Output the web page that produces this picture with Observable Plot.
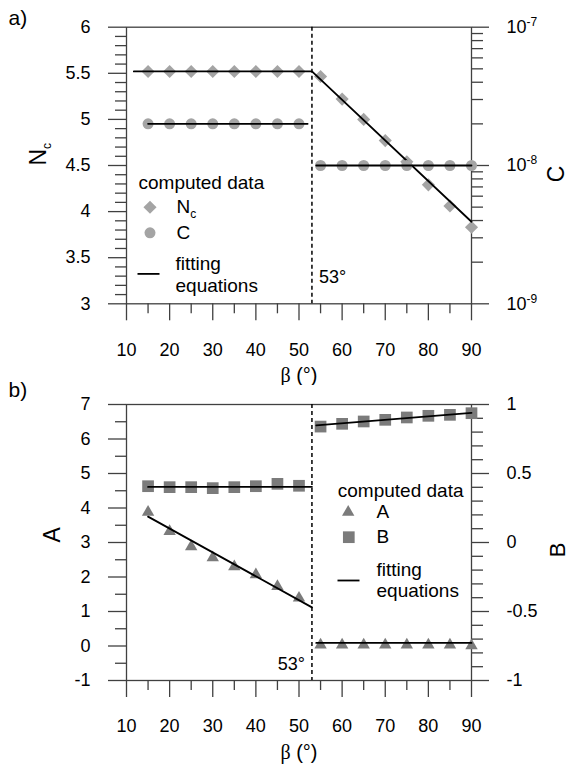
<!DOCTYPE html>
<html><head><meta charset="utf-8">
<script src="https://cdn.jsdelivr.net/npm/d3@7"></script>
<script src="https://cdn.jsdelivr.net/npm/@observablehq/plot@0.6"></script>
<style>
body{margin:0;background:#fff;}
.panel{position:relative;width:570px;height:385px;}
.panel svg{position:absolute;left:0;top:0;}
</style></head><body>
<div id="pa" class="panel"></div>
<div id="pb" class="panel"></div>
<script>
// ---------- data ----------
const betaLow = [15, 20, 25, 30, 35, 40, 45, 50];
const betaHigh = [55, 60, 65, 70, 75, 80, 85, 90];
const ncLow = [5.52, 5.52, 5.52, 5.52, 5.52, 5.52, 5.52, 5.52];
const ncHigh = [5.465, 5.22, 5.0, 4.77, 4.54, 4.29, 4.06, 3.83];
const cLow = [2e-8, 2e-8, 2e-8, 2e-8, 2e-8, 2e-8, 2e-8, 2e-8];
const cHigh = [1e-8, 1e-8, 1e-8, 1e-8, 1e-8, 1e-8, 1e-8, 1e-8];
const ncFitBeta = [11.7, 53, 90];
const ncFitVal = [5.52, 5.52, 3.89];
const cFitLowBeta = [15, 52];
const cFitLowVal = [2e-8, 2e-8];
const cFitHighBeta = [54, 90];
const cFitHighVal = [1e-8, 1e-8];

const aLow = [3.88, 3.32, 2.88, 2.56, 2.30, 2.07, 1.73, 1.39];
const aHigh = [0.03, 0.03, 0.03, 0.03, 0.03, 0.03, 0.03, 0.01];
const bLow = [0.408, 0.401, 0.401, 0.394, 0.401, 0.408, 0.425, 0.411];
const bHigh = [0.84, 0.86, 0.877, 0.889, 0.906, 0.918, 0.925, 0.937];
const aFitLowBeta = [15, 53];
const aFitLowVal = [3.75, 1.12];
const aFitHighBeta = [54, 90];
const aFitHighVal = [0.09, 0.09];
const bFitLowBeta = [15, 53];
const bFitLowVal = [0.403, 0.403];
const bFitHighBeta = [54, 90];
const bFitHighVal = [0.848, 0.94];

const breakBeta = [53];

const xTicks = [10, 20, 30, 40, 50, 60, 70, 80, 90];
const xMinor = [15, 25, 35, 45, 55, 65, 75, 85];
const ncTicks = [3, 3.5, 4, 4.5, 5, 5.5, 6];
const ncMinor = d3.range(31, 60).map(d => d / 10).filter(d => Math.round(d * 10) % 5 !== 0);
const cTicks = [1e-9, 1e-8, 1e-7];
const cTickLabels = ["10^-9", "10^-8", "10^-7"];
const cMinor = [2e-9, 3e-9, 4e-9, 5e-9, 6e-9, 7e-9, 8e-9, 9e-9, 2e-8, 3e-8, 4e-8, 5e-8, 6e-8, 7e-8, 8e-8, 9e-8];
const aTicks = [-1, 0, 1, 2, 3, 4, 5, 6, 7];
const aMinor = [-0.5, 0.5, 1.5, 2.5, 3.5, 4.5, 5.5, 6.5];
const bTicks = [-1, -0.5, 0, 0.5, 1];
const bMinor = d3.range(-9, 10).map(d => d / 10).filter(d => Math.round(d * 10) % 5 !== 0);

// ---------- helpers ----------
const pts = (xs, ys) => xs.map((x, i) => ({beta: x, v: ys[i]}));
const W = 570, H = 385;
const ML = 126, MR = 99;
const AX = "#404040";
const FONT = "Liberation Sans, Arial, sans-serif";
const lightGray = "#a4a4a4";
const darkGray = "#7b7b7b";
const legendLine = {draw(ctx) { ctx.moveTo(-11, 0); ctx.lineTo(11, 0); }};
const M = "middle";

function baseStyle(bg) {
  return {fontFamily: FONT, fontSize: "18px", color: "black", background: bg, overflow: "visible"};
}
function xAxes() {
  return [
    Plot.axisX({ticks: xTicks, tickSize: 17, tickPadding: 22, tickFormat: d => String(d), label: null, stroke: AX, strokeWidth: 1.3}),
    Plot.axisX({ticks: xMinor, tickSize: 10, tickFormat: () => "", label: null, stroke: AX, strokeWidth: 1.3})
  ];
}
function lt(str, dx, dy) {
  return Plot.text([str], {frameAnchor: "top-left", dx, dy, textAnchor: "start", lineAnchor: M, fontSize: 19});
}

// ---------- panel a ----------
const aTop = 26.7, aBottom = H - 303.3;
const pa1 = Plot.plot({
  width: W, height: H, marginLeft: ML, marginRight: MR, marginTop: aTop, marginBottom: aBottom,
  style: baseStyle("white"),
  x: {domain: [10, 90]},
  y: {domain: [3, 6]},
  marks: [
    Plot.frame({stroke: AX, strokeWidth: 1.3}),
    ...xAxes(),
    Plot.axisY({ticks: ncTicks, tickSize: 18, tickPadding: 18, tickFormat: d => String(d), label: null, stroke: AX, strokeWidth: 1.3}),
    Plot.axisY({ticks: ncMinor, tickSize: 11, tickFormat: () => "", label: null, stroke: AX, strokeWidth: 1.3}),
    Plot.ruleX(breakBeta, {stroke: "black", strokeWidth: 1.5, strokeDasharray: "4,3"}),
    Plot.dot(pts(betaLow, ncLow).concat(pts(betaHigh, ncHigh)), {x: "beta", y: "v", symbol: "diamond2", r: 5.9, fill: lightGray}),
    Plot.line(pts(ncFitBeta, ncFitVal), {x: "beta", y: "v", stroke: "black", strokeWidth: 1.8}),
    Plot.text(breakBeta, {x: d => d, frameAnchor: "bottom", dx: 7, dy: -26.6, textAnchor: "start", lineAnchor: M, text: d => d + "°", fontSize: 18}),
    Plot.text(["a)"], {frameAnchor: "top-left", dx: -118, dy: -8.7, textAnchor: "start", lineAnchor: M, fontSize: 21}),
    Plot.text(["Nc"], {frameAnchor: "left", dx: -88, rotate: -90, lineAnchor: M, fontSize: 23}),
    Plot.text(["β (°)"], {frameAnchor: "bottom", dy: 72, lineAnchor: M, fontSize: 20}),
    // legend
    lt("computed data", 12, 156),
    Plot.dot([0], {frameAnchor: "top-left", dx: 23.5, dy: 180, symbol: "diamond2", r: 5.9, fill: lightGray}),
    lt("Nc", 50, 180),
    Plot.dot([0], {frameAnchor: "top-left", dx: 23.5, dy: 205.6, symbol: "circle", r: 5.5, fill: lightGray}),
    lt("C", 50, 205.6),
    Plot.dot([0], {frameAnchor: "top-left", dx: 22, dy: 246.7, symbol: legendLine, r: 5, stroke: "black", strokeWidth: 1.8}),
    lt("fitting", 49, 236.7),
    lt("equations", 49, 258.3)
  ]
});
const pa2 = Plot.plot({
  width: W, height: H, marginLeft: ML, marginRight: MR, marginTop: aTop, marginBottom: aBottom,
  style: baseStyle("transparent"),
  x: {domain: [10, 90], axis: null},
  y: {type: "log", domain: [1e-9, 1e-7]},
  marks: [
    Plot.axisY({anchor: "right", ticks: cTicks, tickSize: 17, tickPadding: 18, tickFormat: d => cTickLabels[cTicks.indexOf(d)], label: null, stroke: AX, strokeWidth: 1.3}),
    Plot.axisY({anchor: "right", ticks: cMinor, tickSize: 11, tickFormat: () => "", label: null, stroke: AX, strokeWidth: 1.3}),
    Plot.dot(pts(betaLow, cLow).concat(pts(betaHigh, cHigh)), {x: "beta", y: "v", symbol: "circle", r: 5.5, fill: lightGray}),
    Plot.line(pts(cFitLowBeta, cFitLowVal), {x: "beta", y: "v", stroke: "black", strokeWidth: 1.8}),
    Plot.line(pts(cFitHighBeta, cFitHighVal), {x: "beta", y: "v", stroke: "black", strokeWidth: 1.8}),
    Plot.text(["C"], {frameAnchor: "right", dx: 85, rotate: -90, lineAnchor: M, fontSize: 23})
  ]
});

// ---------- panel b ----------
const bTop = 19, bBottom = 90;
const pb1 = Plot.plot({
  width: W, height: H, marginLeft: ML, marginRight: MR, marginTop: bTop, marginBottom: bBottom,
  style: baseStyle("white"),
  x: {domain: [10, 90]},
  y: {domain: [-1, 7]},
  marks: [
    Plot.frame({stroke: AX, strokeWidth: 1.3}),
    ...xAxes(),
    Plot.axisY({ticks: aTicks, tickSize: 18, tickPadding: 18, tickFormat: d => String(d), label: null, stroke: AX, strokeWidth: 1.3}),
    Plot.axisY({ticks: aMinor, tickSize: 11, tickFormat: () => "", label: null, stroke: AX, strokeWidth: 1.3}),
    Plot.ruleX(breakBeta, {stroke: "black", strokeWidth: 1.5, strokeDasharray: "4,3"}),
    Plot.dot(pts(betaLow, aLow).concat(pts(betaHigh, aHigh)), {x: "beta", y: "v", symbol: "triangle", r: 4.6, fill: darkGray}),
    Plot.line(pts(aFitLowBeta, aFitLowVal), {x: "beta", y: "v", stroke: "black", strokeWidth: 1.8}),
    Plot.line(pts(aFitHighBeta, aFitHighVal), {x: "beta", y: "v", stroke: "black", strokeWidth: 1.8}),
    Plot.text(breakBeta, {x: d => d, frameAnchor: "bottom", dx: -7, dy: -16, textAnchor: "end", lineAnchor: M, text: d => d + "°", fontSize: 18}),
    Plot.text(["b)"], {frameAnchor: "top-left", dx: -118, dy: -14, textAnchor: "start", lineAnchor: M, fontSize: 21}),
    Plot.text(["A"], {frameAnchor: "left", dx: -73.5, rotate: -90, lineAnchor: M, fontSize: 23}),
    Plot.text(["β (°)"], {frameAnchor: "bottom", dy: 72, lineAnchor: M, fontSize: 20}),
    // legend
    lt("computed data", 211.3, 86.7),
    Plot.dot([0], {frameAnchor: "top-left", dx: 221.7, dy: 107.7, symbol: "triangle", r: 4.6, fill: darkGray}),
    lt("A", 250, 107.7),
    Plot.dot([0], {frameAnchor: "top-left", dx: 222.3, dy: 132.7, symbol: "square", r: 6.6, fill: darkGray}),
    lt("B", 250, 132.7),
    Plot.dot([0], {frameAnchor: "top-left", dx: 222, dy: 176, symbol: legendLine, r: 5, stroke: "black", strokeWidth: 1.8}),
    lt("fitting", 250, 165),
    lt("equations", 250, 186)
  ]
});
const pb2 = Plot.plot({
  width: W, height: H, marginLeft: ML, marginRight: MR, marginTop: bTop, marginBottom: bBottom,
  style: baseStyle("transparent"),
  x: {domain: [10, 90], axis: null},
  y: {domain: [-1, 1]},
  marks: [
    Plot.axisY({anchor: "right", ticks: bTicks, tickSize: 17, tickPadding: 18, tickFormat: d => String(d), label: null, stroke: AX, strokeWidth: 1.3}),
    Plot.axisY({anchor: "right", ticks: bMinor, tickSize: 11, tickFormat: () => "", label: null, stroke: AX, strokeWidth: 1.3}),
    Plot.dot(pts(betaLow, bLow).concat(pts(betaHigh, bHigh)), {x: "beta", y: "v", symbol: "square", r: 6.6, fill: darkGray}),
    Plot.line(pts(bFitLowBeta, bFitLowVal), {x: "beta", y: "v", stroke: "black", strokeWidth: 1.8}),
    Plot.line(pts(bFitHighBeta, bFitHighVal), {x: "beta", y: "v", stroke: "black", strokeWidth: 1.8}),
    Plot.text(["B"], {frameAnchor: "right", dx: 86, rotate: -90, lineAnchor: M, fontSize: 22})
  ]
});

document.getElementById("pa").append(pa1, pa2);
document.getElementById("pb").append(pb1, pb2);

// ---------- text refinements: subscripts, superscripts, β glyph ----------
d3.selectAll("svg text").each(function () {
  const t = this.textContent;
  const sel = d3.select(this);
  if (t === "Nc") {
    const fs = parseFloat(sel.attr("font-size")) || 19;
    sel.text("");
    sel.append("tspan").text("N");
    sel.append("tspan").attr("font-size", Math.round(fs * 0.62)).attr("dy", Math.round(fs * 0.28)).text("c");
  } else if (/^10\^-\d$/.test(t)) {
    const e = t.split("^")[1];
    sel.text("");
    sel.append("tspan").text("10");
    sel.append("tspan").attr("font-size", 12).attr("dy", -7).text(e);
  } else if (t === "β (°)") {
    sel.text("");
    sel.append("tspan").attr("font-family", "Liberation Serif, serif").text("β");
    sel.append("tspan").text(" (°)");
  }
});
</script>
</body></html>
